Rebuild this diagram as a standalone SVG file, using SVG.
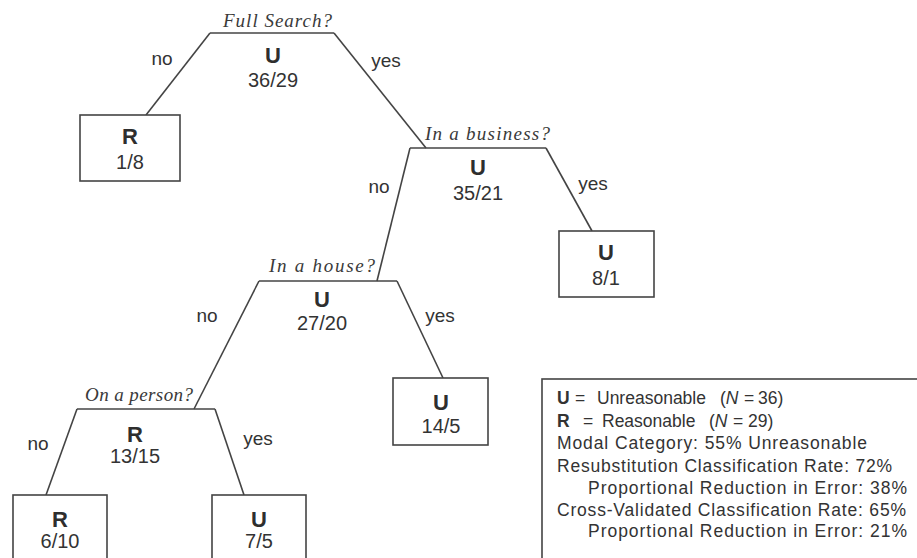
<svg xmlns="http://www.w3.org/2000/svg" width="917" height="558" viewBox="0 0 917 558">
<style>
.ln{stroke:#444;stroke-width:1.6;fill:none}
.box{stroke:#444;stroke-width:1.6;fill:#fff}
.q{font-family:"Liberation Serif","Times New Roman",serif;font-style:italic;font-size:19px;fill:#3a3a3a}
.c{font-family:"Liberation Sans",Arial,sans-serif;font-weight:bold;font-size:22px;fill:#2e2e2e;text-anchor:middle}
.n{font-family:"Liberation Sans",Arial,sans-serif;font-size:20px;fill:#333;text-anchor:middle}
.e{font-family:"Liberation Sans",Arial,sans-serif;font-size:19px;fill:#333;text-anchor:middle}
.lg{font-family:"Liberation Sans",Arial,sans-serif;font-size:17.5px;fill:#333}
</style>
<rect width="917" height="558" fill="#fff"/>
<g id="connectors">
<path class="ln" d="M210,33 L146,115"/>
<path class="ln" d="M334,33 L426,148"/>
<path class="ln" d="M410,148 L377,281"/>
<path class="ln" d="M546,148 L592,231"/>
<path class="ln" d="M259,281 L194,409"/>
<path class="ln" d="M397,281 L443,378"/>
<path class="ln" d="M77,409 L46,495"/>
<path class="ln" d="M215,409 L244,495"/>
<text class="e" x="162" y="65">no</text>
<text class="e" x="386" y="67">yes</text>
<text class="e" x="379" y="193">no</text>
<text class="e" x="593" y="190">yes</text>
<text class="e" x="207" y="322">no</text>
<text class="e" x="440" y="322">yes</text>
<text class="e" x="38" y="450">no</text>
<text class="e" x="258" y="445">yes</text>
</g>
<g id="node-full-search">
<path class="ln" d="M210,33 L334,33"/>
<text class="q" x="223" y="27" textLength="109" lengthAdjust="spacing">Full Search?</text>
<text class="c" x="273" y="63">U</text>
<text class="n" x="273" y="87">36/29</text>
</g>
<g id="leaf-r-1-8">
<rect class="box" x="80" y="115" width="100" height="66"/>
<text class="c" x="130" y="144">R</text>
<text class="n" x="130" y="169">1/8</text>
</g>
<g id="node-business">
<path class="ln" d="M410,148 L546,148"/>
<text class="q" x="425" y="140" textLength="125" lengthAdjust="spacing">In a business?</text>
<text class="c" x="478" y="175">U</text>
<text class="n" x="478" y="200">35/21</text>
</g>
<g id="leaf-u-8-1">
<rect class="box" x="559" y="231" width="95" height="66"/>
<text class="c" x="606" y="260">U</text>
<text class="n" x="606" y="285">8/1</text>
</g>
<g id="node-house">
<path class="ln" d="M259,281 L397,281"/>
<text class="q" x="269" y="272" textLength="106" lengthAdjust="spacing">In a house?</text>
<text class="c" x="322" y="307">U</text>
<text class="n" x="322" y="330">27/20</text>
</g>
<g id="leaf-u-14-5">
<rect class="box" x="393" y="378" width="95" height="67"/>
<text class="c" x="441" y="410">U</text>
<text class="n" x="441" y="433">14/5</text>
</g>
<g id="node-person">
<path class="ln" d="M77,409 L215,409"/>
<text class="q" x="85" y="401" textLength="108" lengthAdjust="spacing">On a person?</text>
<text class="c" x="135" y="442">R</text>
<text class="n" x="135" y="463">13/15</text>
</g>
<g id="leaf-r-6-10">
<rect class="box" x="13" y="495" width="94" height="80"/>
<text class="c" x="60" y="527">R</text>
<text class="n" x="60" y="548">6/10</text>
</g>
<g id="leaf-u-7-5">
<rect class="box" x="212" y="495" width="94" height="80"/>
<text class="c" x="259" y="527">U</text>
<text class="n" x="259" y="548">7/5</text>
</g>
<g id="legend">
<rect class="box" x="542" y="379" width="400" height="200"/>
<text class="lg" y="404"><tspan x="557" font-weight="bold">U</tspan><tspan x="575">=</tspan><tspan x="597">Unreasonable</tspan><tspan x="720">(</tspan><tspan font-style="italic">N</tspan><tspan x="744">=</tspan><tspan x="758">36)</tspan></text>
<text class="lg" y="427"><tspan x="557" font-weight="bold">R</tspan><tspan x="583">=</tspan><tspan x="602">Reasonable</tspan><tspan x="709">(</tspan><tspan font-style="italic">N</tspan><tspan x="733">=</tspan><tspan x="748">29)</tspan></text>
<text class="lg" x="557" y="449" textLength="310" lengthAdjust="spacing">Modal Category: 55% Unreasonable</text>
<text class="lg" x="557" y="472" textLength="335" lengthAdjust="spacing">Resubstitution Classification Rate: 72%</text>
<text class="lg" x="588" y="494" textLength="319" lengthAdjust="spacing">Proportional Reduction in Error: 38%</text>
<text class="lg" x="557" y="516" textLength="349" lengthAdjust="spacing">Cross-Validated Classification Rate: 65%</text>
<text class="lg" x="588" y="537" textLength="319" lengthAdjust="spacing">Proportional Reduction in Error: 21%</text>
</g>
</svg>
